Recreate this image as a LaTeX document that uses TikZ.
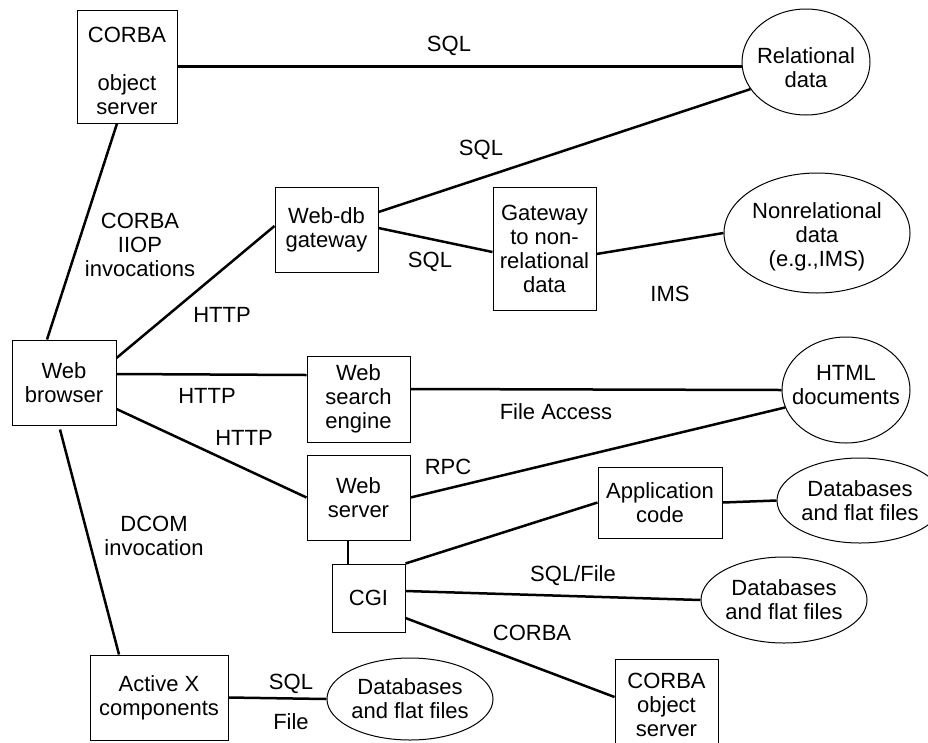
\documentclass[tikz,border=0pt]{standalone}
\usepackage{fontspec}
\setmainfont{Liberation Sans}
\usetikzlibrary{shapes.geometric}
\begin{document}
\begin{tikzpicture}[x=1pt,y=-1pt,
  every node/.style={font=\fontsize{22}{24}\selectfont, align=center, inner sep=0pt},
  box/.style={draw, line width=1pt, rectangle},
  blob/.style={draw, line width=1pt, ellipse},
  wire/.style={line width=2.5pt},
  lbl/.style={}]
\useasboundingbox (0,0) rectangle (928,742);
\clip (0,0) rectangle (928,742);
\fill[white] (0,0) rectangle (928,742);

% boxes
\node[box, minimum width=100, minimum height=113] (corbaT) at (127,66.5) {};
\node (corbaTtext) at (127,70.5) {CORBA\\\mbox{}\\object\\server};
\node[box, minimum width=104, minimum height=85] (browser) at (64,382.5) {Web\\browser};
\node[box, minimum width=103, minimum height=85] (webdb) at (326.5,229.5) {Web-db\\gateway};
\node[box, minimum width=103, minimum height=123] (gateway) at (544.5,248.5) {Gateway\\to non-\\relational\\data};
\node[box, minimum width=103, minimum height=86] (search) at (358.5,399) {Web\\search\\engine};
\node[box, minimum width=103, minimum height=85] (server) at (358.5,497.5) {Web\\server};
\node[box, minimum width=73, minimum height=68] (cgi) at (368.5,598) {CGI};
\node[box, minimum width=124, minimum height=71] (app) at (660,502.5) {Application\\code};
\node[box, minimum width=138, minimum height=85] (activex) at (159,697.5) {Active X\\components};
\node[box, minimum width=103, minimum height=92] (corbaB) at (666.5,705) {CORBA\\object\\server};

% data stores
\node[blob, minimum width=128, minimum height=106] (rel) at (806,62) {};
\node (reltext) at (806,68) {Relational\\data};
\node[blob, minimum width=186, minimum height=120] (nonrel) at (817,233) {};
\node (nonreltext) at (817,237) {Nonrelational\\data\\(e.g.,IMS)};
\node[blob, minimum width=128, minimum height=106] (html) at (846,390) {};
\node (htmltext) at (846,385) {HTML\\documents};
\node[blob, minimum width=150, minimum height=85] (db1) at (860,500.5) {Databases\\and flat files};
\node[blob, minimum width=150, minimum height=86] (db2) at (784,600) {Databases\\and flat files};
\node[blob, minimum width=150, minimum height=82] (db3) at (410,699) {Databases\\and flat files};

% connectors
\draw[wire] (corbaT.east) -- (rel.west |- corbaT.east);
\draw[wire] ([xshift=-10pt]corbaT.south) -- ([xshift=-17pt]browser.north);
\draw[wire] ([yshift=24.5pt]browser.east) -- ([yshift=3.5pt]webdb.west);
\draw[wire] ([yshift=17.5pt]webdb.east) -- (rel.206);
\draw[wire] ([yshift=1.5pt]webdb.east) -- ([yshift=-3.5pt]gateway.west);
\draw[wire] ([yshift=-5.5pt]gateway.east) -- (nonrel.west);
\draw[wire] ([yshift=8.5pt]browser.east) -- ([yshift=24pt]search.west);
\draw[wire] ([yshift=10pt]search.east) -- (html.west);
\draw[wire] ([yshift=-26.5pt]browser.east) -- (server.west);
\draw[wire] (server.east) -- (html.196);
\draw[wire] ([xshift=-10.5pt]server.south) -- ([xshift=-20.5pt]cgi.north);
\draw[wire] (cgi.north east) -- (app.west);
\draw[wire] ([yshift=7pt]cgi.east) -- (db2.west);
\draw[wire] ([yshift=-20pt]cgi.east) -- ([yshift=8pt]corbaB.west);
\draw[wire] (app.east) -- (db1.west);
\draw[wire] ([xshift=-4pt,yshift=-4pt]browser.south) -- ([xshift=-40pt]activex.north);
\draw[wire] (activex.east) -- (db3.west);

% connector labels
\node[lbl] (l1) at (449,46) {SQL};
\node[lbl] (l2) at (481,150) {SQL};
\node[lbl] (l3) at (140,245) {CORBA\\IIOP\\invocations};
\node[lbl] (l4) at (222,315) {HTTP};
\node[lbl] (l5) at (430,262) {SQL};
\node[lbl] (l6) at (670,294) {IMS};
\node[lbl] (l7) at (207,396) {HTTP};
\node[lbl] (l8) at (244,438) {HTTP};
\node[lbl] (l9) at (556,412) {File Access};
\node[lbl] (l10) at (448,467) {RPC};
\node[lbl] (l11) at (154,536) {DCOM\\invocation};
\node[lbl] (l12) at (573,576) {SQL/File};
\node[lbl] (l13) at (532,633) {CORBA};
\node[lbl] (l14) at (291,684) {SQL};
\node[lbl] (l15) at (291,722) {File};
\end{tikzpicture}
\end{document}
